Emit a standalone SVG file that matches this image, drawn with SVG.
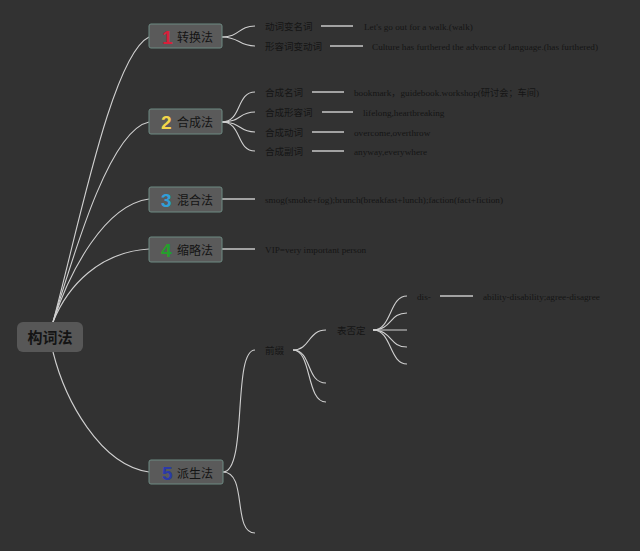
<svg xmlns="http://www.w3.org/2000/svg" width="640" height="551" viewBox="0 0 640 551">
<style>
.bg{fill:#323232}
.box{fill:#5a5a5a;stroke:#6d8a82;stroke-width:1}
.root{fill:#575757}
.c{fill:none;stroke:#d0d0d0;stroke-width:1.1}
.ln{stroke:#c8c8c8;stroke-width:1.5}
.nt{font-family:"Noto Sans CJK SC","Noto Sans CJK JP",sans-serif;font-size:12px;fill:#141414}
.num{font-family:"Liberation Sans",Arial,sans-serif;font-size:19px;font-weight:bold}
.lb{font-family:"Noto Sans CJK SC","Noto Sans CJK JP",sans-serif;font-size:9.5px;fill:#151515}
.en{font-family:"Liberation Serif","Times New Roman","Noto Sans CJK SC",serif;font-size:9.2px;fill:#151515}
</style>
<rect class="bg" x="0" y="0" width="640" height="551"/>
<g id="connectors">
<path class="c" d="M53,322 C78,230 112,55 149,37"/>
<path class="c" d="M53,322 C75,250 110,130 149,122"/>
<path class="c" d="M53,322 C70,270 105,205 149,199"/>
<path class="c" d="M53,322 C68,285 100,252 149,249"/>
<path class="c" d="M53,352 C65,400 100,465 149,472"/>
<path class="c" d="M222,37 C240,37 238,26 255,26"/>
<path class="c" d="M222,37 C240,37 238,46 255,46"/>
<line class="ln" x1="321" y1="26" x2="353" y2="26"/>
<line class="ln" x1="330" y1="46" x2="363" y2="46"/>
<path class="c" d="M222,122 C242,122 236,92 255,92"/>
<path class="c" d="M222,122 C242,122 238,112 255,112"/>
<path class="c" d="M222,122 C242,122 238,132 255,132"/>
<path class="c" d="M222,122 C242,122 236,151 255,151"/>
<line class="ln" x1="312" y1="92" x2="344" y2="92"/>
<line class="ln" x1="322" y1="112" x2="353" y2="112"/>
<line class="ln" x1="312" y1="132" x2="344" y2="132"/>
<line class="ln" x1="312" y1="151" x2="344" y2="151"/>
<line class="ln" x1="222" y1="199" x2="255" y2="199"/>
<line class="ln" x1="222" y1="249" x2="255" y2="249"/>
<path class="c" d="M223,472 C248,472 232,350 255,350"/>
<path class="c" d="M223,472 C248,472 232,533 255,533"/>
<path class="c" d="M293,350 C310,350 308,330 326,330"/>
<path class="c" d="M293,350 C312,350 306,383 326,383"/>
<path class="c" d="M293,350 C312,350 306,402 326,402"/>
<path class="c" d="M373,330 C392,330 389,296 407,296"/>
<path class="c" d="M373,330 C392,330 389,313 407,313"/>
<path class="c" d="M373,330 L407,330"/>
<path class="c" d="M373,330 C392,330 389,347 407,347"/>
<path class="c" d="M373,330 C392,330 389,364 407,364"/>
<line class="ln" x1="440" y1="296" x2="473" y2="296"/>
</g>
<g id="root">
<rect class="root" x="17" y="322" width="66" height="30" rx="6"/>
<text x="50" y="343" text-anchor="middle" style="font-family:'Noto Sans CJK SC',sans-serif;font-size:15px;font-weight:bold;fill:#141414">构词法</text>
</g>
<g id="n1">
<rect class="box" x="149" y="24" width="73" height="24" rx="2"/>
<text class="num" x="162" y="43.5" fill="#d8203a">1</text>
<text class="nt" x="177" y="41.5">转换法</text>
</g>
<g id="n1a"><text class="lb" x="265" y="30">动词变名词</text></g>
<g id="n1a1"><text class="en" x="364" y="30">Let's go out for a walk.(walk)</text></g>
<g id="n1b"><text class="lb" x="265" y="50">形容词变动词</text></g>
<g id="n1b1"><text class="en" x="372" y="50">Culture has furthered the advance of language.(has furthered)</text></g>
<g id="n2">
<rect class="box" x="149" y="109" width="73" height="25" rx="2"/>
<text class="num" x="161" y="129" fill="#f2d64a">2</text>
<text class="nt" x="177" y="127">合成法</text>
</g>
<g id="n2a"><text class="lb" x="265" y="95.5">合成名词</text></g>
<g id="n2a1"><text class="en" x="354" y="95.5">bookmark，guidebook.workshop(研讨会；车间)</text></g>
<g id="n2b"><text class="lb" x="265" y="115.5">合成形容词</text></g>
<g id="n2b1"><text class="en" x="363" y="115.5">lifelong,heartbreaking</text></g>
<g id="n2c"><text class="lb" x="265" y="135.5">合成动词</text></g>
<g id="n2c1"><text class="en" x="354" y="135.5">overcome,overthrow</text></g>
<g id="n2d"><text class="lb" x="265" y="154.5">合成副词</text></g>
<g id="n2d1"><text class="en" x="354" y="154.5">anyway,everywhere</text></g>
<g id="n3">
<rect class="box" x="149" y="187" width="73" height="25" rx="2"/>
<text class="num" x="161" y="206.5" fill="#2f9fd8">3</text>
<text class="nt" x="177" y="204.5">混合法</text>
</g>
<g id="n3a"><text class="en" x="265" y="202.5">smog(smoke+fog);brunch(breakfast+lunch);faction(fact+fiction)</text></g>
<g id="n4">
<rect class="box" x="149" y="237" width="73" height="25" rx="2"/>
<text class="num" x="161" y="256.5" fill="#24a02c">4</text>
<text class="nt" x="177" y="254.5">缩略法</text>
</g>
<g id="n4a"><text class="en" x="265" y="252.5">VIP=very important person</text></g>
<g id="n5">
<rect class="box" x="149" y="460" width="74" height="24" rx="2"/>
<text class="num" x="162" y="479.5" fill="#2b3aa8">5</text>
<text class="nt" x="177" y="477.5">派生法</text>
</g>
<g id="n5a"><text class="lb" x="265" y="354">前缀</text></g>
<g id="n5a1"><text class="lb" x="337" y="334">表否定</text></g>
<g id="n5a1a"><text class="en" x="417" y="300">dis-</text></g>
<g id="n5a1a1"><text class="en" x="483" y="300">ability-disability;agree-disagree</text></g>
</svg>
